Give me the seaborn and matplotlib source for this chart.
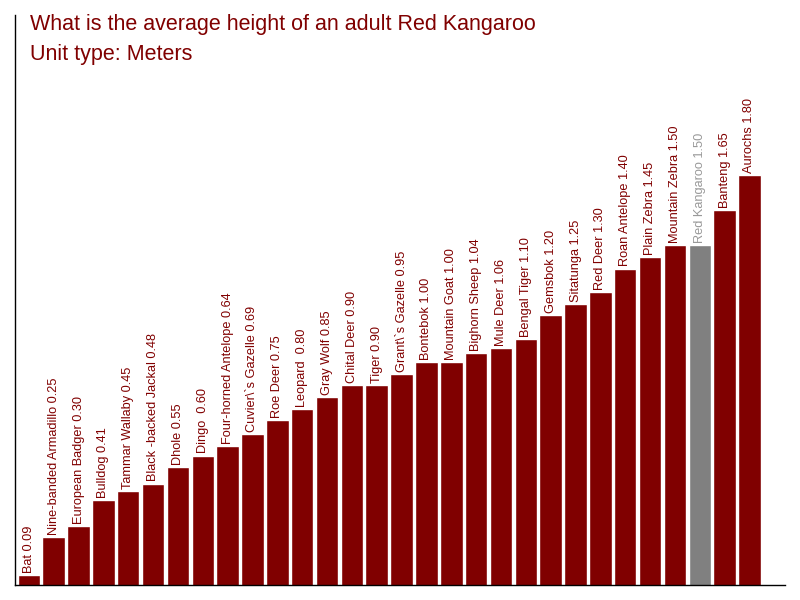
import matplotlib
matplotlib.use("Agg")
import matplotlib.pyplot as plt
import seaborn as sns
import pandas as pd

names = ["Bat", "Nine-banded Armadillo", "European Badger", "Bulldog", "Tammar Wallaby",
         "Black -backed Jackal", "Dhole", "Dingo ", "Four-horned Antelope", "Cuvier\\`s Gazelle",
         "Roe Deer", "Leopard ", "Gray Wolf", "Chital Deer", "Tiger", "Grant\\`s Gazelle",
         "Bontebok", "Mountain Goat", "Bighorn Sheep", "Mule Deer", "Bengal Tiger", "Gemsbok",
         "Sitatunga", "Red Deer", "Roan Antelope", "Plain Zebra", "Mountain Zebra",
         "Red Kangaroo", "Banteng", "Aurochs"]
heights = [0.09, 0.25, 0.30, 0.41, 0.45, 0.48, 0.55, 0.60, 0.64, 0.69, 0.75, 0.80, 0.85,
           0.90, 0.90, 0.95, 1.00, 1.00, 1.04, 1.06, 1.10, 1.20, 1.25, 1.30, 1.40, 1.45,
           1.50, 1.50, 1.65, 1.80]
highlight = "Red Kangaroo"
title_lines = ["What is the average height of an adult Red Kangaroo", "Unit type: Meters"]

DARK = "#800000"
GRAY = "#808080"

df = pd.DataFrame({"name": names, "height": heights})
df["group"] = ["hl" if n == highlight else "base" for n in names]

sns.set_style("white")
plt.rcParams["font.family"] = ["Liberation Sans", "DejaVu Sans"]

fig = plt.figure(figsize=(8, 6), dpi=100)
ax = fig.add_axes([15/800, 15/600, 770/800, 570/600])

sns.barplot(data=df, x="name", y="height", hue="group", order=names,
            palette={"base": DARK, "hl": GRAY}, width=0.905, dodge=False,
            legend=False, ax=ax, saturation=1)

for i, (n, h) in enumerate(zip(names, heights)):
    col = "#999999" if n == highlight else DARK
    ax.annotate(f"{n} {h:.2f}", xy=(i, h), xytext=(0, 1.5), textcoords="offset points",
                rotation=90, ha="center", va="bottom", fontsize=9.2, color=col)

ax.set_xlim(-0.557, 30.43)
ax.set_ylim(0.046, 2.485)
ax.set_xticks([])
ax.set_yticks([])
ax.set_xlabel("")
ax.set_ylabel("")
for s in ["top", "right"]:
    ax.spines[s].set_visible(False)
for s in ["left", "bottom"]:
    ax.spines[s].set_color("black")
    ax.spines[s].set_linewidth(1)

fig.text(30/800, 1 - 30/600, title_lines[0], color=DARK, fontsize=15.5, va="baseline", ha="left")
fig.text(30/800, 1 - 60/600, title_lines[1], color=DARK, fontsize=15.5, va="baseline", ha="left")

fig.savefig("out.png", dpi=100)
